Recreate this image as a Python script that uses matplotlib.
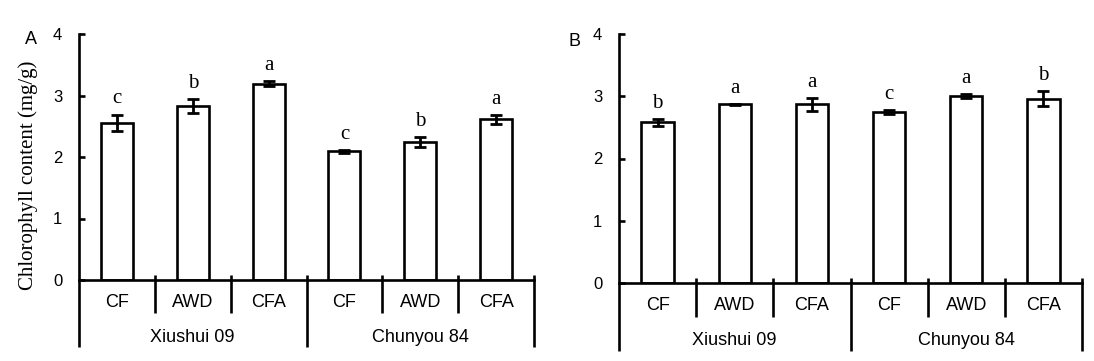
import matplotlib
matplotlib.use("Agg")
import matplotlib.pyplot as plt

# ── Data ─────────────────────────────────────────────────────────────
treatments = ["CF", "AWD", "CFA", "CF", "AWD", "CFA"]
cultivars = ["Xiushui 09", "Chunyou 84"]

mean_a = [2.56, 2.83, 3.19, 2.09, 2.25, 2.61]
err_a = [0.13, 0.11, 0.04, 0.02, 0.08, 0.07]
sig_a = ["c", "b", "a", "c", "b", "a"]

mean_b = [2.58, 2.87, 2.87, 2.75, 3.00, 2.96]
err_b = [0.05, 0.01, 0.10, 0.03, 0.03, 0.12]
sig_b = ["b", "a", "a", "c", "a", "b"]

SANS = "Liberation Sans"
SERIF = "Liberation Serif"
LW = 1.9

plt.rcParams.update({
    "font.family": SANS,
    "axes.linewidth": LW,
})

fig = plt.figure(figsize=(10.94, 3.61), dpi=100)
W, H = 1094, 361


def draw_panel(rect, means, errs, sigs, letter, letter_xy):
    ax = fig.add_axes(rect)
    x = list(range(len(means)))
    ax.bar(x, means, width=0.42, color="white", edgecolor="black",
           linewidth=LW, zorder=2)
    ax.errorbar(x, means, yerr=errs, fmt="none", ecolor="black",
                elinewidth=2.0, capsize=4.5, capthick=2.0, zorder=3)
    for xi, m, e, s in zip(x, means, errs, sigs):
        ax.annotate(s, (xi, m + e), xytext=(0, 8), textcoords="offset points",
                    ha="center", va="baseline", family=SERIF, fontsize=15)

    ax.set_xlim(-0.5, len(means) - 0.5)
    ax.set_ylim(0, 4)
    ax.set_yticks([0, 1, 2, 3, 4])
    ax.tick_params(axis="y", direction="in", length=4, width=LW, pad=12,
                   labelsize=12)
    ax.set_xticks([])
    for s in ("top", "right"):
        ax.spines[s].set_visible(False)

    # bracket-style category axis below the bars
    short, long_ = -0.54, -1.09
    ax.vlines(-0.5, long_, 0, color="black", linewidth=LW, clip_on=False)
    for b in (0.5, 1.5, 3.5, 4.5):
        ax.vlines(b, short, 0.08, color="black", linewidth=LW, clip_on=False)
    for b in (2.5, 5.5):
        ax.vlines(b, long_, 0.08, color="black", linewidth=LW, clip_on=False)
    for xi, t in zip(x, treatments):
        ax.text(xi, -0.36, t, ha="center", va="center", fontsize=13)
    for gi, g in enumerate(cultivars):
        ax.text(1 + 3 * gi, -0.93, g, ha="center", va="center", fontsize=13)

    fig.text(letter_xy[0] / W, 1 - letter_xy[1] / H, letter, ha="center",
             va="center", fontsize=13)
    return ax


draw_panel([79 / W, 1 - 280 / H, 455 / W, 246 / H], mean_a, err_a, sig_a,
           "A", (31, 39))
draw_panel([619 / W, 1 - 283 / H, 463 / W, 249 / H], mean_b, err_b, sig_b,
           "B", (575, 42))

fig.text(28 / W, 1 - 175 / H, "Chlorophyll content (mg/g)", rotation=90,
         ha="center", va="center", family=SERIF, fontsize=15)

fig.savefig("out.png", dpi=100)
